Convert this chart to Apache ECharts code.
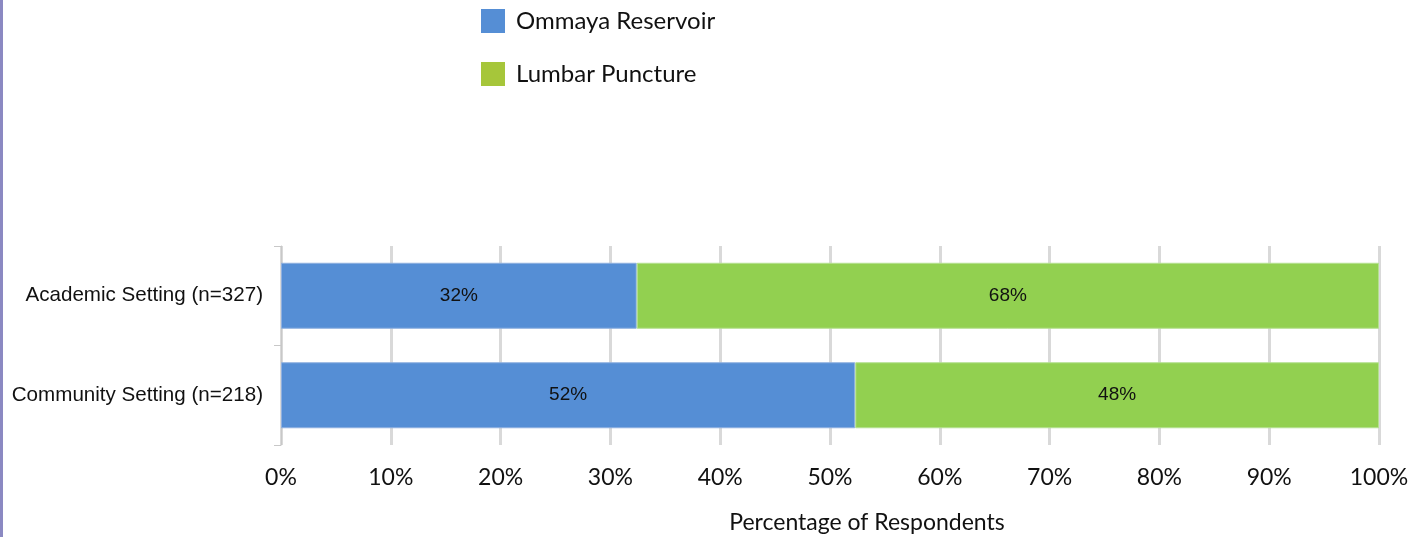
<!DOCTYPE html>
<html>
<head>
<meta charset="utf-8">
<script src="https://cdn.jsdelivr.net/npm/echarts@6/dist/echarts.min.js"></script>
<style>
  html, body { margin: 0; padding: 0; background: #fff; }
  #ChartDIV { width: 1422px; height: 537px; }
  #edge { position: absolute; left: 0; top: 0; width: 3px; height: 537px; background: #8b89c2; }
</style>
</head>
<body>
<div id="ChartDIV"></div>
<div id="edge"></div>
<script>
var categories = ['Academic Setting (n=327)', 'Community Setting (n=218)'];
var ommayaValues = [32.4, 52.3];
var lumbarValues = [67.6, 47.7];
var seriesNames = ['Ommaya Reservoir', 'Lumbar Puncture'];

var myChart = echarts.init(document.getElementById('ChartDIV'));

var labelFmt = function (params) {
    return Math.round(params.value) + '%';
};

var option = {
    animation: false,
    legend: {
        orient: 'vertical',
        left: 481,
        top: 9,
        padding: 0,
        itemWidth: 24,
        itemHeight: 24,
        itemGap: 29,
        icon: 'rect',
        textStyle: { fontFamily: 'Lato', fontSize: 24, color: '#111', padding: [0, 0, 0, 6] },
        data: [
            { name: seriesNames[0], itemStyle: { color: '#558ed5', borderWidth: 0 } },
            { name: seriesNames[1], itemStyle: { color: '#a6c63a', borderWidth: 0 } }
        ]
    },
    grid: { left: 281, right: 43, top: 246, bottom: 92, outerBoundsMode: 'none' },
    xAxis: {
        type: 'value',
        min: 0,
        max: 100,
        interval: 10,
        name: 'Percentage of Respondents',
        nameLocation: 'middle',
        nameGap: 66,
        nameTextStyle: { fontFamily: 'Lato', fontSize: 23, color: '#111', padding: [0, 0, 0, 74] },
        axisLabel: { formatter: '{value}%', fontFamily: 'Lato', fontSize: 23, color: '#111', margin: 21 },
        axisLine: { show: false },
        axisTick: { show: false },
        splitLine: { lineStyle: { color: '#d9d9d9', width: 3 } }
    },
    yAxis: {
        type: 'category',
        inverse: true,
        data: categories,
        axisLine: { show: true, lineStyle: { color: '#c8c8c8', width: 1 } },
        axisTick: { show: true, length: 7, lineStyle: { color: '#c8c8c8' } },
        axisLabel: { fontFamily: 'Liberation Sans', fontSize: 20.6, color: '#111', margin: 18 }
    },
    series: [
        {
            name: seriesNames[0],
            type: 'bar',
            stack: 'total',
            barWidth: 66,
            data: ommayaValues,
            itemStyle: { color: '#558ed5', borderColor: '#8fb0e0', borderWidth: 1 },
            label: { show: true, position: 'inside', formatter: labelFmt, fontFamily: 'Liberation Sans', fontSize: 19, color: '#111' }
        },
        {
            name: seriesNames[1],
            type: 'bar',
            stack: 'total',
            barWidth: 66,
            data: lumbarValues,
            itemStyle: { color: '#92d050', borderColor: '#b5e090', borderWidth: 1 },
            label: { show: true, position: 'inside', formatter: labelFmt, fontFamily: 'Liberation Sans', fontSize: 19, color: '#111' }
        }
    ]
};

myChart.setOption(option);

window.addEventListener('resize', function () {
    myChart.resize();
});
</script>
</body>
</html>
